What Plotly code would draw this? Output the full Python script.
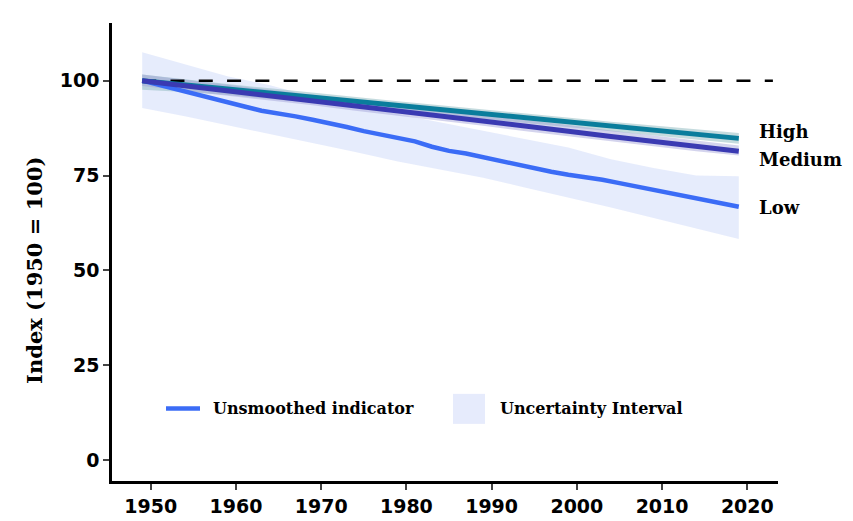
import plotly.graph_objects as go

# ---- data ----
low_years = [1949, 1951, 1953, 1955, 1957, 1959, 1961, 1963, 1965, 1967, 1969, 1971,
             1973, 1975, 1977, 1979, 1981, 1983, 1985, 1987, 1989, 1991, 1993, 1995,
             1997, 1999, 2001, 2003, 2005, 2007, 2009, 2011, 2013, 2015, 2017, 2019]
low_values = [100.0, 98.9, 97.8, 96.8, 95.6, 94.4, 93.2, 92.1, 91.4, 90.6, 89.7, 88.8,
              87.8, 86.7, 85.7, 85.0, 84.0, 82.6, 81.5, 80.8, 79.8, 78.9, 78.1, 77.0,
              76.0, 75.2, 74.6, 73.9, 73.0, 72.1, 71.2, 70.3, 69.5, 68.6, 67.7, 66.8]

band_years = [1949, 1954, 1959, 1964, 1969, 1974, 1979, 1984, 1989, 1994, 1999, 2004,
              2009, 2014, 2019]
low_upper = [107.5, 104.4, 101.2, 98.8, 95.8, 93.4, 91.2, 89.0, 86.9, 84.7, 82.4, 79.3,
             77.0, 75.0, 74.8]
low_lower = [92.8, 90.6, 88.2, 86.0, 83.6, 81.2, 78.7, 76.6, 74.4, 71.8, 69.3, 66.6,
             63.8, 61.0, 58.3]

high_values = [100.0, 98.9, 97.8, 96.7, 95.6, 94.5, 93.4, 92.3, 91.2, 90.1, 89.0, 87.9,
               86.9, 85.8, 84.8]
high_upper = [101.6, 100.3, 99.1, 98.0, 96.8, 95.7, 94.6, 93.5, 92.4, 91.3, 90.3, 89.2,
              88.2, 87.2, 86.2]
high_lower = [97.6, 97.0, 96.2, 95.2, 94.2, 93.2, 92.1, 91.0, 89.9, 88.8, 87.7, 86.6,
              85.6, 84.5, 83.4]

medium_values = [100.0, 98.7, 97.4, 96.1, 94.8, 93.4, 92.1, 90.7, 89.4, 88.0, 86.7, 85.3,
                 84.0, 82.7, 81.4]
medium_upper = [101.6, 100.2, 98.9, 97.6, 96.3, 95.0, 93.6, 92.3, 91.0, 89.6, 88.3, 86.9,
                85.6, 84.2, 82.9]
medium_lower = [98.6, 97.4, 96.1, 94.8, 93.5, 92.1, 90.8, 89.4, 88.1, 86.7, 85.4, 84.0,
                82.7, 81.4, 80.3]

reference_value = 100
reference_span = [1949, 2023]

scenario_labels = ["High", "Medium", "Low"]
legend_labels = ["Unsmoothed indicator", "Uncertainty Interval"]
x_ticks = [1950, 1960, 1970, 1980, 1990, 2000, 2010, 2020]
y_ticks = [0, 25, 50, 75, 100]
y_title = "Index (1950 = 100)"

# ---- styles ----
C_LOW = "#3b6cf6"
C_LOW_BAND = "rgba(214,223,250,0.6)"
C_HIGH = "#0a7d9c"
C_HIGH_BAND = "rgba(150,190,195,0.55)"
C_MED = "#3a3ab2"
C_MED_BAND = "rgba(160,160,215,0.45)"

W, H = 853, 521
ML, MR, MT, MB = 104, 83, 15, 33
PW, PH = W - ML - MR, H - MT - MB


def px(xp):
    return (xp - ML) / PW


def py(yp):
    return (H - MB - yp) / PH


fig = go.Figure()


def band(xs, upper, lower, color):
    fig.add_trace(go.Scatter(x=xs + xs[::-1], y=upper + lower[::-1], fill="toself",
                             fillcolor=color, line=dict(width=0), mode="lines",
                             hoverinfo="skip", showlegend=False))


band(band_years, low_upper, low_lower, C_LOW_BAND)
band(band_years, high_upper, high_lower, C_HIGH_BAND)
band(band_years, medium_upper, medium_lower, C_MED_BAND)

fig.add_trace(go.Scatter(x=reference_span, y=[reference_value] * 2, mode="lines",
                         line=dict(color="black", width=2.5, dash="14px,14.3px"),
                         showlegend=False, hoverinfo="skip"))

fig.add_trace(go.Scatter(x=low_years, y=low_values, mode="lines",
                         line=dict(color=C_LOW, width=4.5), showlegend=False))
fig.add_trace(go.Scatter(x=band_years, y=high_values, mode="lines",
                         line=dict(color=C_HIGH, width=5), showlegend=False))
fig.add_trace(go.Scatter(x=band_years, y=medium_values, mode="lines",
                         line=dict(color=C_MED, width=5), showlegend=False))

LABEL_FONT = dict(family="DejaVu Serif", size=18, color="black", weight="bold")

# end labels
for text, yp in zip(scenario_labels, [126.7, 156, 206]):
    fig.add_annotation(x=px(749), y=py(yp), xref="paper", yref="paper", text=text,
                       showarrow=False, xanchor="left", yanchor="middle", font=LABEL_FONT)

# manual legend
LEG_FONT = dict(family="DejaVu Serif", size=16, color="black", weight="bold")
fig.add_shape(type="line", xref="paper", yref="paper", x0=px(158), x1=px(192),
              y0=py(413), y1=py(413), line=dict(color=C_LOW, width=4.5))
fig.add_annotation(x=px(203), y=py(413), xref="paper", yref="paper", text=legend_labels[0],
                   showarrow=False, xanchor="left", yanchor="middle", font=LEG_FONT)
fig.add_shape(type="rect", xref="paper", yref="paper", x0=px(445), x1=px(477),
              y0=py(429), y1=py(398), line=dict(width=0), fillcolor="#e6ebfc")
fig.add_annotation(x=px(490), y=py(413), xref="paper", yref="paper", text=legend_labels[1],
                   showarrow=False, xanchor="left", yanchor="middle", font=LEG_FONT)

# y title
fig.add_annotation(x=px(27), y=py(271), xref="paper", yref="paper", text=y_title,
                   showarrow=False, textangle=-90, xanchor="center", yanchor="middle",
                   font=dict(family="DejaVu Serif", size=21, color="black", weight="bold"))

TICK_FONT = dict(family="DejaVu Sans", size=19, color="black", weight="bold")
fig.update_xaxes(range=[1945.46, 2023.6], tickvals=x_ticks, showgrid=False, zeroline=False,
                 showline=True, linecolor="black", linewidth=2.5, ticks="outside",
                 ticklen=6, tickwidth=2, tickcolor="#444", tickfont=TICK_FONT)
fig.update_yaxes(range=[-5.48, 115.2], tickvals=y_ticks, showgrid=False, zeroline=False,
                 showline=True, linecolor="black", linewidth=2.5, ticks="outside",
                 ticklen=6, tickwidth=2, tickcolor="#444", tickfont=TICK_FONT)

fig.update_layout(width=W, height=H, margin=dict(l=ML, r=MR, t=MT, b=MB),
                  plot_bgcolor="white", paper_bgcolor="white", showlegend=False)

fig.write_html("out.html")
